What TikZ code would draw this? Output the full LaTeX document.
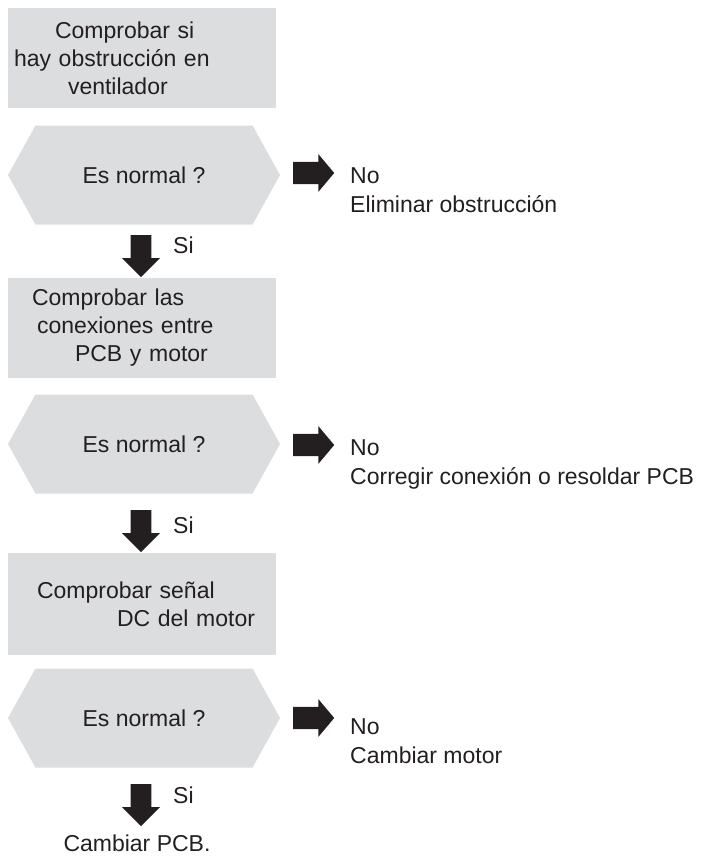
\documentclass[tikz,border=0pt]{standalone}
\usepackage{fontspec}
\setmainfont{Liberation Sans}
\usepackage{xcolor}
\usetikzlibrary{shapes.symbols, shapes.arrows, positioning}
\definecolor{boxgray}{HTML}{DCDDDF}
\definecolor{inkblack}{HTML}{231F20}
\tikzset{
    % Step boxes
    stepbox/.style={
        rectangle,
        draw=none,
        fill=boxgray,
        minimum width=268pt,
        minimum height=100pt,
        align=left,
        text=inkblack,
        font=\fontsize{23}{28}\selectfont
    },
    % Decision hexagons
    checkhex/.style={
        signal,
        signal to=west and east,
        signal pointer angle=122,
        draw=none,
        fill=boxgray,
        minimum width=272pt,
        minimum height=99pt,
        inner sep=0pt,
        text=inkblack,
        font=\fontsize{23}{28}\selectfont
    },
    % Block arrows
    downarrow/.style={
        single arrow,
        shape border rotate=270,
        fill=inkblack,
        draw=none,
        inner sep=8.5pt,
        minimum height=42pt,
        minimum width=38pt,
        single arrow tip angle=90
    },
    rightarrow/.style={
        single arrow,
        fill=inkblack,
        draw=none,
        inner sep=10pt,
        minimum height=41pt,
        minimum width=38pt,
        single arrow tip angle=100
    },
    plaintext/.style={
        align=left,
        inner sep=0pt,
        text=inkblack,
        font=\fontsize{23}{29}\selectfont
    }
}
\begin{document}
\begin{tikzpicture}[x=1pt, y=-1pt]
    \useasboundingbox (0,0) rectangle (705,859);

    % Steps
    \node[stepbox, text width=256pt, inner xsep=6pt] (s1) at (142,58)
        {\hspace*{41pt}Comprobar si\\hay obstrucción en\\\hspace*{54pt}ventilador};
    \node[stepbox, text width=220pt, inner xsep=24pt] (s2) at (142,328)
        {Comprobar las\\\hspace*{5pt}conexiones entre\\\hspace*{43pt}PCB y motor};
    \node[stepbox, text width=230pt, inner xsep=19pt, minimum height=102pt] (s3) at (142,604)
        {\hspace*{10pt}Comprobar señal\\\hspace*{90pt}DC del motor};

    % Checks
    \node[checkhex] (c1) at (144,175) {Es normal ?};
    \node[checkhex] (c2) at (144,444) {Es normal ?};
    \node[checkhex] (c3) at (144,718) {Es normal ?};

    % Yes branch
    \node[downarrow] (d1) at (141,251) {};
    \node[downarrow] (d2) at (141,526) {};
    \node[downarrow] (d3) at (141,800) {};
    \node[plaintext, anchor=west] (y1) at (173,245) {Si};
    \node[plaintext, anchor=west] (y2) at (173,525) {Si};
    \node[plaintext, anchor=west] (y3) at (173,795) {Si};
    \node[plaintext] (end) at (137,843) {Cambiar PCB.};

    % No branch
    \node[rightarrow] (r1) at (309,173) {};
    \node[rightarrow] (r2) at (309,445) {};
    \node[rightarrow] (r3) at (309,718) {};
    \node[plaintext, anchor=west] (n1) at (350,190) {No\\Eliminar obstrucción};
    \node[plaintext, anchor=west] (n2) at (350,464) {No\\Corregir conexión o resoldar PCB};
    \node[plaintext, anchor=west] (n3) at (350,741) {No\\Cambiar motor};
\end{tikzpicture}
\end{document}
